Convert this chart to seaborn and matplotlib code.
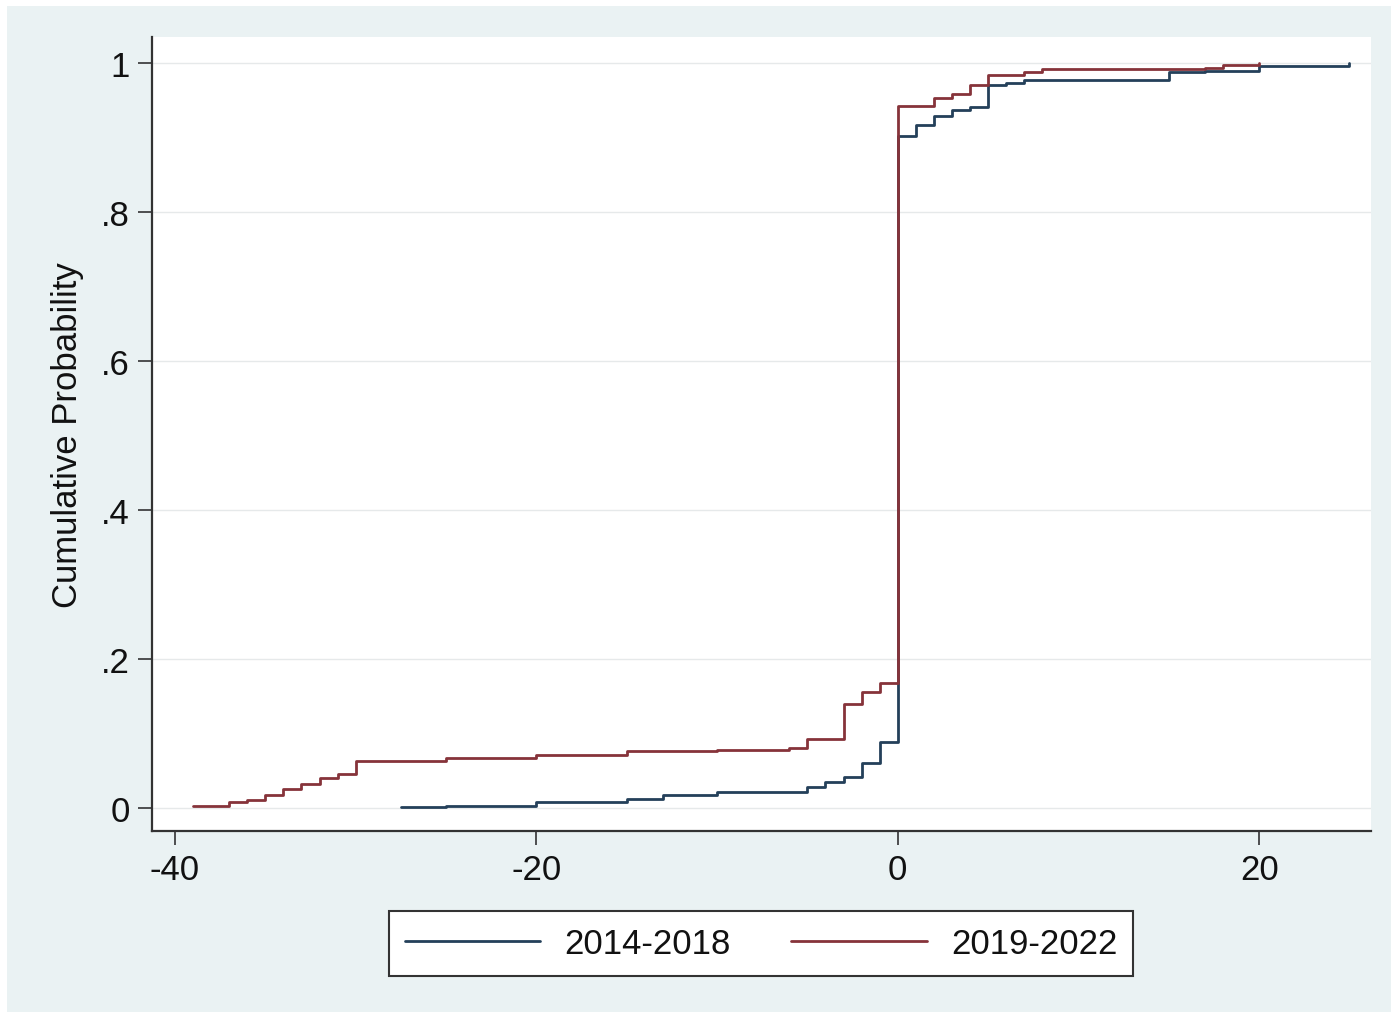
import matplotlib
matplotlib.use("Agg")
import matplotlib.pyplot as plt
import seaborn as sns
import pandas as pd
from matplotlib.patches import Rectangle

# Empirical CDF steps (value, cumulative probability) for each period
x_2014_2018 = [-27.5, -25, -20, -15, -13, -10, -5, -4, -3, -2, -1, 0, 1, 2, 3, 4, 5, 6, 7, 15, 17, 20, 25]
cdf_2014_2018 = [0.001, 0.003, 0.008, 0.012, 0.017, 0.021, 0.028, 0.035, 0.042, 0.060, 0.089,
                 0.902, 0.917, 0.929, 0.937, 0.941, 0.970, 0.973, 0.977, 0.988, 0.990, 0.996, 1.0]

x_2019_2022 = [-39, -37, -36, -35, -34, -33, -32, -31, -30, -25, -20, -15, -10, -6, -5, -3, -2, -1,
               0, 2, 3, 4, 5, 7, 8, 17, 18, 20]
cdf_2019_2022 = [0.003, 0.008, 0.011, 0.018, 0.025, 0.032, 0.040, 0.046, 0.063, 0.067, 0.071,
                 0.076, 0.078, 0.081, 0.093, 0.140, 0.155, 0.168, 0.942, 0.953, 0.959, 0.970,
                 0.984, 0.988, 0.992, 0.994, 0.998, 1.0]

periods = ["2014-2018", "2019-2022"]
x_ticks = [-40, -20, 0, 20]
y_ticks = [0, 0.2, 0.4, 0.6, 0.8, 1.0]
y_tick_labels = ["0", ".2", ".4", ".6", ".8", "1"]

df = pd.concat([
    pd.DataFrame({"value": x_2014_2018, "cdf": cdf_2014_2018, "period": periods[0]}),
    pd.DataFrame({"value": x_2019_2022, "cdf": cdf_2019_2022, "period": periods[1]}),
], ignore_index=True)

sns.set_theme(style="white")
plt.rcParams["font.family"] = ["Liberation Sans", "DejaVu Sans"]
plt.rcParams["axes.unicode_minus"] = False

W, H = 1398, 1020
fig = plt.figure(figsize=(W / 100, H / 100), dpi=100, facecolor="white")
bg = "#EAF2F3"
m = 7
fig.patches.append(Rectangle((m / W, m / H), 1 - 2 * m / W, 1 - 2 * m / H,
                             transform=fig.transFigure, facecolor=bg, edgecolor="none",
                             zorder=-10))

ax = fig.add_axes([152 / W, 1 - 832 / H, (1371 - 152) / W, (832 - 38) / H])
ax.set_facecolor("white")
ax.set_zorder(1)

palette = {"2014-2018": "#24405a", "2019-2022": "#86333a"}
sns.lineplot(data=df, x="value", y="cdf", hue="period", hue_order=periods, palette=palette,
             estimator=None, sort=True, drawstyle="steps-post", linewidth=2.0,
             legend=False, ax=ax, zorder=3)

ax.set_xlim(-41.27, 26.19)
ax.set_ylim(-0.031, 1.035)

for yv in y_ticks:
    ax.axhline(yv, color="#E6E9EA", linewidth=1.0, zorder=1)

ax.set_xticks(x_ticks)
ax.set_xticklabels([str(v) for v in x_ticks])
ax.set_yticks(y_ticks)
ax.set_yticklabels(y_tick_labels)

ax.tick_params(axis="both", which="major", direction="out", length=10, width=1.2,
               color="#333333", labelsize=25, labelcolor="#111111", pad=6,
               left=True, bottom=True)

for side in ["top", "right"]:
    ax.spines[side].set_visible(False)
for side in ["left", "bottom"]:
    ax.spines[side].set_color("#333333")
    ax.spines[side].set_linewidth(1.6)

ax.set_xlabel("")
ax.set_ylabel("Cumulative Probability", fontsize=25, color="#111111", labelpad=12)

handles = ax.get_lines()[:2]
leg = fig.legend(handles, periods, loc="center", bbox_to_anchor=(761 / W, 1 - 944.5 / H),
                 ncol=2, fontsize=25, frameon=True, fancybox=False, handlelength=3.9,
                 handletextpad=0.7, columnspacing=1.75, borderpad=0.45)
leg.get_frame().set_edgecolor("#333333")
leg.get_frame().set_linewidth(1.5)
leg.get_frame().set_facecolor("white")
leg.get_frame().set_alpha(1.0)
for t in leg.get_texts():
    t.set_color("#111111")

fig.savefig("out.png", dpi=100, facecolor=fig.get_facecolor())
